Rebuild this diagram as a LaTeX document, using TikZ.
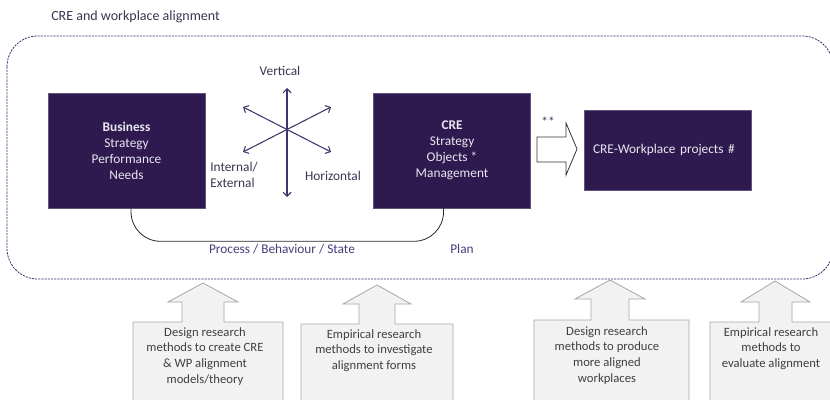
\documentclass[tikz,border=0pt]{standalone}
\usepackage{fontspec}
\setmainfont{Carlito}
\usepackage{tikz}
\usetikzlibrary{positioning,arrows.meta}

\definecolor{crepurple}{HTML}{2E1A4F}
\definecolor{boxtext}{HTML}{E8E6F0}
\definecolor{labeltext}{HTML}{3A3550}
\definecolor{starline}{HTML}{40356A}
\definecolor{flowtext}{HTML}{4B3A7A}
\definecolor{borderline}{HTML}{3D2E6B}
\definecolor{boxgray}{HTML}{F2F2F2}
\definecolor{boxedge}{HTML}{A6A6A6}
\definecolor{graytext}{HTML}{404040}

\begin{document}
\begin{tikzpicture}[x=0.75pt,y=-0.75pt,font=\fontsize{10}{12}\selectfont]
    \tikzstyle{darkbox}=[fill=crepurple, draw=crepurple!75!white, text=boxtext, align=center,
        inner sep=0pt, minimum width=117.75pt, minimum height=86.25pt]
    \tikzstyle{projectbox}=[fill=crepurple, draw=crepurple!75!white, text=boxtext, align=left,
        inner xsep=6.75pt, inner ysep=0pt, text width=111.75pt, minimum height=60pt]
    \tikzstyle{lbl}=[text=labeltext, inner sep=0pt]
    \tikzstyle{flow}=[text=flowtext, inner sep=0pt]
    \tikzstyle{star}=[draw=starline, line width=0.8pt, {Straight Barb[length=3pt,width=6pt]}-{Straight Barb[length=3pt,width=6pt]}]
    \tikzstyle{upbox}=[fill=boxgray, draw=boxedge, line width=0.6pt]
    \tikzstyle{restext}=[text=graytext, align=center, inner sep=0pt, anchor=north,
        font=\fontsize{9.5}{11.9}\selectfont]

    \useasboundingbox (0,0) rectangle (830,399);
    \clip (0,0) rectangle (830,399);

    % title and dashed frame
    \node[lbl, anchor=west, font=\fontsize{10.5}{12}\selectfont] (title) at (51,17) {CRE and workplace alignment};
    \draw[borderline, dash pattern=on 1.6pt off 0.8pt, line width=0.6pt, rounded corners=23pt] (7,36) rectangle (833,279);

    % the three boxes
    \node[darkbox] (business) at (126.5,150.5) {\textbf{Business}\\Strategy\\Performance\\Needs};
    \node[darkbox, right=126pt of business] (cre) {\textbf{CRE}\\Strategy\\Objects *\\Management};
    \node[projectbox, right=39.75pt of cre] (projects) {CRE-Workplace projects \#};

    % alignment directions
    \coordinate (hub) at (287,129);
    \coordinate (vtop) at (287,88);
    \coordinate (vbot) at (287,197);
    \coordinate (ul) at (243,107);
    \coordinate (lr) at (331,152);
    \coordinate (ur) at (331,107);
    \coordinate (ll) at (243,152);
    \draw[star] (vtop) -- (vbot);
    \draw[star] (ul) -- (lr);
    \draw[star] (ll) -- (ur);
    \node[lbl] (vertical) at (280,71) {Vertical};
    \node[lbl, anchor=west, align=left] (internal) at (210,175) {Internal/\\External};
    \node[lbl] (horizontal) at (333,176) {Horizontal};

    % process link under the boxes
    \draw[black!85, line width=0.6pt, rounded corners=22pt]
        ([xshift=3.4pt]business.south) -- ++(0,33) -| ([xshift=-6.4pt]cre.south);
    \node[flow] (process) at (282,249) {Process / Behaviour / State};
    \node[flow] (plan) at (462,249) {Plan};

    % block arrow to projects
    \draw[black!80, fill=white, line width=0.6pt] (537,137) -- (566,137) -- (566,123) -- (577,149)
        -- (566,175) -- (566,162) -- (537,162) -- cycle;
    \node[lbl] (stars) at (548,122) {**};

    % research methods
    \draw[upbox] (133,410) -- (133,322) -- (182,322) -- (182,302) -- (168,302) -- (203,283)
        -- (238,302) -- (224,302) -- (224,322) -- (283,322) -- (283,410) -- cycle;
    \draw[upbox] (301,410) -- (301,324) -- (359,324) -- (359,304) -- (343,304) -- (377,285)
        -- (411,304) -- (395,304) -- (395,324) -- (453,324) -- (453,410) -- cycle;
    \draw[upbox] (534,410) -- (534,320) -- (591,320) -- (591,299) -- (575,299) -- (610,280)
        -- (645,299) -- (629,299) -- (629,320) -- (689,320) -- (689,410) -- cycle;
    \draw[upbox] (710,410) -- (710,322) -- (759,322) -- (759,302) -- (741,302) -- (775,281)
        -- (810,302) -- (792,302) -- (792,322) -- (850,322) -- (850,410) -- cycle;
    \node[restext] (res1) at (205,327) {Design research\\methods to create CRE\\\& WP alignment\\models/theory};
    \node[restext] (res2) at (374,329) {Empirical research\\methods to investigate\\alignment forms};
    \node[restext] (res3) at (607,326) {Design research\\methods to produce\\more aligned\\workplaces};
    \node[restext] (res4) at (771,327) {Empirical research\\methods to\\evaluate alignment};
\end{tikzpicture}
\end{document}
